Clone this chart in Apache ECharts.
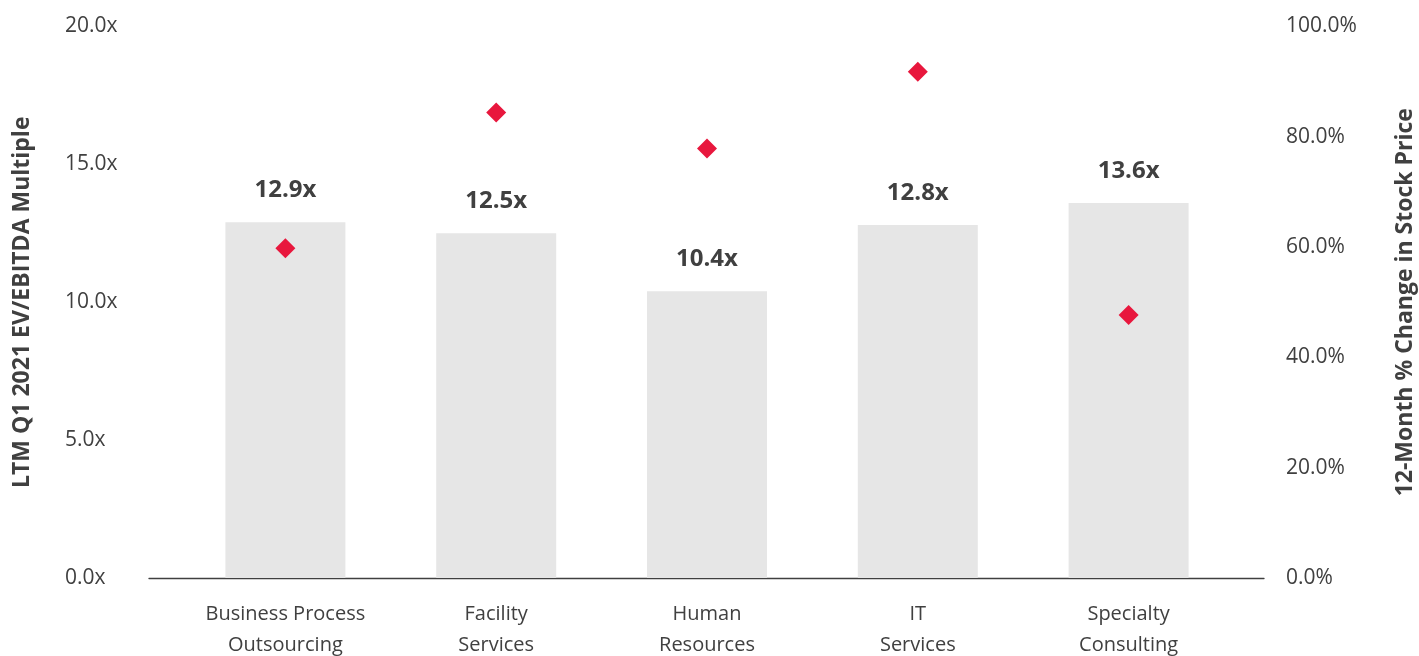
<!DOCTYPE html>
<html>
<head>
<meta charset="utf-8">
<script src="https://cdn.jsdelivr.net/npm/echarts@6/dist/echarts.min.js"></script>
<style>
html,body{margin:0;padding:0;background:#fff;}
#chart{width:1419px;height:656px;}
</style>
</head>
<body>
<div id="chart"></div>
<script>
const categories = ['Business Process\nOutsourcing', 'Facility\nServices', 'Human\nResources', 'IT\nServices', 'Specialty\nConsulting'];
const multiples = [12.9, 12.5, 10.4, 12.8, 13.6];
const stockChange = [59.8, 84.4, 77.9, 91.8, 47.7];
const leftTicks = { min: 0, max: 20, interval: 5 };
const rightTicks = { min: 0, max: 100, interval: 20 };

const FONT = '"Open Sans", "Noto Sans", sans-serif';
const TXT = '#404040';

const chart = echarts.init(document.getElementById('chart'));
chart.setOption({
  animation: false,
  textStyle: { fontFamily: FONT },
  grid: [
    { left: 149, right: 155, top: 26.5, bottom: 78, outerBoundsMode: 'none', containLabel: false },
    { left: 180, right: 185, top: 26.5, bottom: 78, outerBoundsMode: 'none', containLabel: false }
  ],
  xAxis: [
    {
      type: 'category', gridIndex: 0, data: categories,
      axisLine: { show: true, lineStyle: { color: '#404040', width: 1.3 } },
      axisTick: { show: false }, axisLabel: { show: false }, splitLine: { show: false }
    },
    {
      type: 'category', gridIndex: 1, data: categories,
      axisLine: { show: false }, axisTick: { show: false },
      axisLabel: { color: TXT, fontSize: 20, lineHeight: 31, margin: 21, fontFamily: FONT, interval: 0 }
    }
  ],
  yAxis: [
    {
      type: 'value', gridIndex: 0, min: 0, max: 20, show: false
    },
    {
      type: 'value', gridIndex: 1, position: 'left',
      min: leftTicks.min, max: leftTicks.max, interval: leftTicks.interval,
      axisLine: { show: false }, axisTick: { show: false }, splitLine: { show: false },
      axisLabel: { color: TXT, fontSize: 21, align: 'left', margin: 115, fontFamily: FONT,
        formatter: v => v.toFixed(1) + 'x' },
      name: 'LTM Q1 2021 EV/EBITDA Multiple', nameLocation: 'middle', nameGap: 146,
      nameTextStyle: { color: TXT, fontSize: 23, fontWeight: 'bold', fontFamily: FONT }
    },
    {
      type: 'value', gridIndex: 1, position: 'right',
      min: rightTicks.min, max: rightTicks.max, interval: rightTicks.interval,
      axisLine: { show: false }, axisTick: { show: false }, splitLine: { show: false },
      axisLabel: { color: TXT, fontSize: 21, align: 'left', margin: 52, fontFamily: FONT,
        formatter: v => v.toFixed(1) + '%' },
      name: '12-Month % Change in Stock Price', nameLocation: 'middle', nameGap: 160,
      nameRotate: 90,
      nameTextStyle: { color: TXT, fontSize: 23, fontWeight: 'bold', fontFamily: FONT }
    }
  ],
  series: [
    {
      type: 'bar', xAxisIndex: 1, yAxisIndex: 1, data: multiples, barWidth: 120,
      itemStyle: { color: '#e6e6e6' },
      label: { show: true, position: 'top', distance: 20, color: TXT, fontSize: 24,
        fontWeight: 'bold', fontFamily: FONT, formatter: p => p.value.toFixed(1) + 'x' }
    },
    {
      type: 'scatter', xAxisIndex: 1, yAxisIndex: 2, data: stockChange,
      symbol: 'diamond', symbolSize: 20, itemStyle: { color: '#e8173d', opacity: 1 }, z: 5
    }
  ]
});
</script>
</body>
</html>
